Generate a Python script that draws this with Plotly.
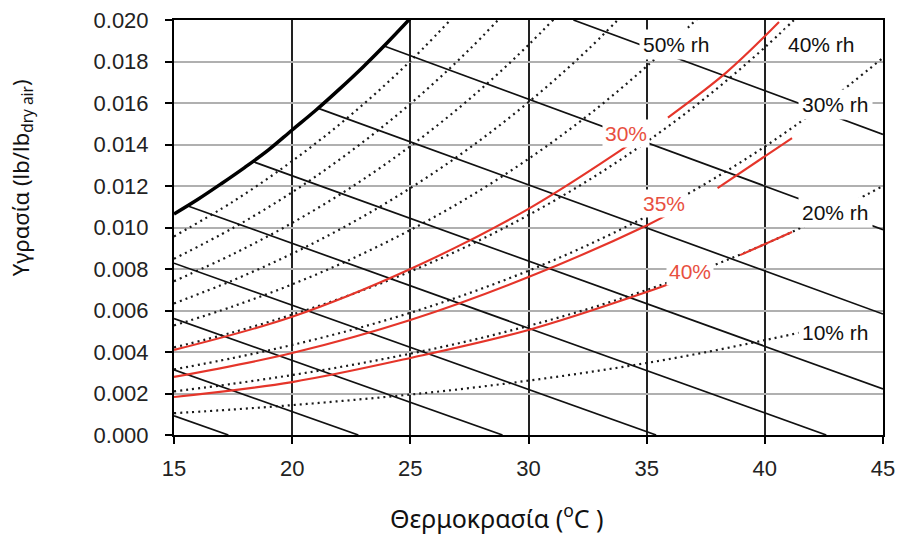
import plotly.graph_objects as go

# ---------------- data ----------------
x_ticks = [15, 20, 25, 30, 35, 40, 45]
y_ticks = [0.000, 0.002, 0.004, 0.006, 0.008, 0.010, 0.012, 0.014, 0.016, 0.018, 0.020]

# saturation curve (100% rh)
sat_T = [15, 16, 17, 18, 19, 20, 21, 22, 23, 24, 25]
sat_W = [0.01065, 0.01135, 0.01211, 0.01290, 0.01374, 0.01470, 0.01565, 0.01667, 0.01774, 0.01888, 0.02008]

# relative-humidity curves (dotted)
rh_T = [15, 17.5, 20, 22.5, 25, 27.5, 30, 32.5, 35, 37.5, 40, 42.5, 45]
rh90_W = [0.00957, 0.01125, 0.01320, 0.01544, 0.01802, 0.02098]
rh80_W = [0.00849, 0.00998, 0.01170, 0.01369, 0.01596, 0.01858, 0.02157]
rh70_W = [0.00741, 0.00872, 0.01022, 0.01194, 0.01392, 0.01619, 0.01880, 0.02177]
rh60_W = [0.00634, 0.00746, 0.00874, 0.01021, 0.01190, 0.01383, 0.01604, 0.01856, 0.02144]
rh50_W = [0.00528, 0.00620, 0.00726, 0.00848, 0.00988, 0.01148, 0.01331, 0.01539, 0.01777, 0.02046]
rh40_W = [0.00422, 0.00495, 0.00580, 0.00677, 0.00788, 0.00915, 0.01060, 0.01225, 0.01413, 0.01626, 0.01868, 0.02140]
rh30_W = [0.00316, 0.00371, 0.00434, 0.00506, 0.00589, 0.00684, 0.00792, 0.00915, 0.01054, 0.01212, 0.01390, 0.01592, 0.01818]
rh20_W = [0.00210, 0.00247, 0.00289, 0.00337, 0.00392, 0.00454, 0.00526, 0.00607, 0.00699, 0.00803, 0.00920, 0.01052, 0.01200]
rh10_T = [15, 17.5, 20, 22.5, 25, 27.5, 30, 32.5, 35, 37.5, 40, 41.5]
rh10_W = [0.00105, 0.00123, 0.00144, 0.00168, 0.00195, 0.00226, 0.00262, 0.00302, 0.00347, 0.00399, 0.00457, 0.00494]

# wet-bulb lines (solid): start and end points
wb_T0 = [15, 15, 15, 15, 15.56, 18.33, 21.11, 23.89, 31.9]
wb_W0 = [0.00092, 0.00314, 0.00561, 0.00828, 0.01105, 0.01318, 0.01574, 0.01875, 0.02000]
wb_T1 = [17.3, 22.8, 28.9, 35.4, 42.6, 45, 45, 45, 45]
wb_W1 = [0.0, 0.0, 0.0, 0.0, 0.0, 0.00222, 0.00583, 0.00990, 0.01449]

# red curves
red30_T = [15, 20, 25, 30, 34.4, None, 35.9, 38.4, 40.6]
red30_W = [0.0041, 0.0057, 0.0080, 0.0109, 0.0141, None, 0.0153, 0.0175, 0.0199]
red35_T = [15, 20, 25, 30, 35, 36.1, None, 38.0, 41.15]
red35_W = [0.0028, 0.00395, 0.00554, 0.00761, 0.0101, 0.01075, None, 0.0119, 0.01431]
red40_T = [15, 20, 25, 30, 35, 36.4, None, 38.95, 41.15]
red40_W = [0.00183, 0.00255, 0.00371, 0.00506, 0.00689, 0.00747, None, 0.00867, 0.00978]

rh_labels = ["50% rh", "40% rh", "30% rh", "20% rh", "10% rh"]
red_labels = ["30%", "35%", "40%"]

# ---------------- figure ----------------
fig = go.Figure()

DOT = dict(color="#1a1a1a", width=2.2, dash="2px,4px")
for W in [rh90_W, rh80_W, rh70_W, rh60_W, rh50_W, rh40_W, rh30_W, rh20_W]:
    fig.add_trace(go.Scatter(x=rh_T[:len(W)], y=W, mode="lines",
                             line=dict(shape="spline", **DOT), hoverinfo="skip"))
fig.add_trace(go.Scatter(x=rh10_T, y=rh10_W, mode="lines",
                         line=dict(shape="spline", **DOT), hoverinfo="skip"))

for t0, w0, t1, w1 in zip(wb_T0, wb_W0, wb_T1, wb_W1):
    fig.add_trace(go.Scatter(x=[t0, t1], y=[w0, w1], mode="lines",
                             line=dict(color="#111111", width=1.7), hoverinfo="skip"))

fig.add_trace(go.Scatter(x=sat_T, y=sat_W, mode="lines",
                         line=dict(color="#000000", width=3.5, shape="spline"), hoverinfo="skip"))

RED = "#e5352a"
for T, W in [(red30_T, red30_W), (red35_T, red35_W), (red40_T, red40_W)]:
    fig.add_trace(go.Scatter(x=T, y=W, mode="lines", connectgaps=False,
                             line=dict(color=RED, width=2.1, shape="spline"), hoverinfo="skip"))

LF = dict(family="Liberation Sans, Arial, sans-serif", size=21, color="#111111")
rh_pos = [(36.28, 0.0188), (42.4, 0.0188), (43.0, 0.01595), (43.0, 0.0107), (43.0, 0.00496)]
for txt, (x, y) in zip(rh_labels, rh_pos):
    fig.add_annotation(x=x, y=y, text=txt, showarrow=False, font=LF,
                       bgcolor="white", borderpad=3)
red_pos = [(34.13, 0.01455), (35.73, 0.01118), (36.83, 0.00786)]
for txt, (x, y) in zip(red_labels, red_pos):
    fig.add_annotation(x=x, y=y, text=txt, showarrow=False,
                       font=dict(family="Liberation Sans, Arial, sans-serif", size=21, color="#e8503f"),
                       bgcolor="white", borderpad=2)

# axis titles
TF = dict(family="Noto Sans, Open Sans, sans-serif", size=25, color="#111111")
fig.add_annotation(xref="paper", yref="paper", x=0.455, y=-0.197, yanchor="middle",
                   text="Θερμοκρασία (<sup>o</sup>C )", showarrow=False, font=TF)
fig.add_annotation(xref="paper", yref="paper", x=-0.215, y=0.62, xanchor="center", yanchor="middle",
                   text="Υγρασία (lb/lb<sub>dry air</sub>)", showarrow=False, textangle=-90,
                   font=dict(family="Noto Sans, Open Sans, sans-serif", size=22, color="#111111"))

TICKF = dict(family="Liberation Sans, Arial, sans-serif", size=22, color="#222222")
fig.update_layout(
    width=899, height=546,
    margin=dict(l=174, r=16, t=20, b=111, autoexpand=False),
    paper_bgcolor="white", plot_bgcolor="white",
    showlegend=False,
    xaxis=dict(range=[15, 45], tickvals=x_ticks, ticktext=[str(v) for v in x_ticks],
               automargin=False,
               showgrid=True, gridcolor="#222222", gridwidth=1.5,
               showline=True, linecolor="#000000", linewidth=2, mirror=True,
               ticks="outside", ticklen=7, tickwidth=1.5, tickcolor="#000000",
               ticklabelstandoff=6,
               zeroline=False, tickfont=TICKF),
    yaxis=dict(range=[0, 0.020], tickvals=y_ticks, ticktext=[f"{v:.3f}" for v in y_ticks],
               automargin=False,
               showgrid=True, gridcolor="#b0b0b0", gridwidth=1.5,
               showline=True, linecolor="#000000", linewidth=2, mirror=True,
               ticks="outside", ticklen=7, tickwidth=1.5, tickcolor="#000000",
               ticklabelstandoff=12,
               zeroline=False, tickfont=TICKF),
)

fig.write_html("out.html")
